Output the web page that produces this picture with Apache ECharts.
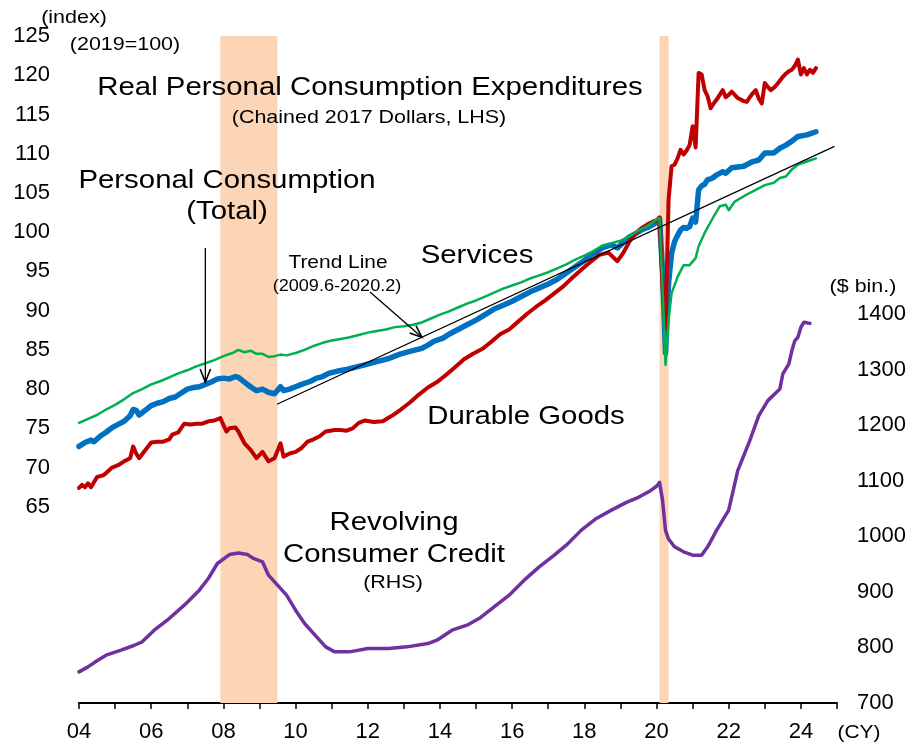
<!DOCTYPE html>
<html>
<head>
<meta charset="utf-8">
<title>Real Personal Consumption Expenditures and Revolving Consumer Credit</title>
<script src="https://cdn.jsdelivr.net/npm/echarts@6/dist/echarts.min.js"></script>
<style>
  html, body { margin: 0; padding: 0; background: #fff; }
  #chart { width: 909px; height: 746px; }
</style>
</head>
<body>
<div id="chart"></div>
<script>
// ---- Data: [year, month, value] ----
// Real PCE indices, 2019 = 100 (LHS)
const totalPCE = [
  [2004,1,72.7],[2004,3,73.2],[2004,5,73.5],[2004,6,73.3],[2004,8,74.0],[2004,10,74.5],[2004,12,75.1],
  [2005,2,75.5],[2005,4,75.9],[2005,6,76.6],[2005,7,77.4],[2005,8,77.3],[2005,9,76.7],[2005,11,77.3],
  [2006,1,77.9],[2006,3,78.2],[2006,5,78.4],[2006,7,78.8],[2006,9,79.0],[2006,11,79.5],
  [2007,1,80.0],[2007,3,80.2],[2007,5,80.3],[2007,7,80.6],[2007,9,80.9],[2007,11,81.3],
  [2008,1,81.4],[2008,3,81.3],[2008,5,81.6],[2008,6,81.5],[2008,8,80.9],[2008,10,80.3],[2008,12,79.8],
  [2009,2,80.0],[2009,4,79.6],[2009,6,79.4],[2009,8,80.3],[2009,9,79.8],[2009,11,80.0],
  [2010,1,80.3],[2010,3,80.6],[2010,6,81.0],[2010,8,81.4],[2010,10,81.6],[2010,12,82.0],
  [2011,3,82.3],[2011,6,82.5],[2011,9,82.8],[2011,12,83.1],
  [2012,3,83.4],[2012,6,83.7],[2012,8,83.9],[2012,10,84.2],[2012,12,84.5],
  [2013,3,84.8],[2013,5,85.0],[2013,7,85.2],[2013,9,85.6],[2013,11,86.1],
  [2014,2,86.5],[2014,4,87.0],[2014,7,87.6],[2014,10,88.2],
  [2015,1,88.8],[2015,4,89.5],[2015,7,90.2],[2015,10,90.7],
  [2016,1,91.2],[2016,4,91.8],[2016,7,92.4],[2016,10,92.9],
  [2017,1,93.4],[2017,4,94.0],[2017,7,94.8],[2017,10,95.6],
  [2018,1,96.4],[2018,4,97.3],[2018,7,98.0],[2018,10,98.4],[2018,12,98.0],
  [2019,2,98.7],[2019,4,99.4],[2019,6,99.8],[2019,8,100.3],[2019,10,100.6],[2019,12,101.0],
  [2020,1,101.3],[2020,2,101.7],[2020,3,95.0],[2020,4,84.6],[2020,5,93.5],[2020,6,97.3],
  [2020,7,98.8],[2020,8,99.6],[2020,9,100.3],[2020,10,100.6],[2020,11,100.5],[2020,12,100.7],
  [2021,1,101.8],[2021,2,101.3],[2021,3,105.4],[2021,4,105.9],[2021,5,106.1],[2021,6,106.7],
  [2021,7,106.8],[2021,8,107.0],[2021,9,107.3],[2021,10,107.5],[2021,11,107.7],[2021,12,107.5],
  [2022,2,108.2],[2022,4,108.3],[2022,6,108.4],[2022,9,109.0],[2022,11,109.2],
  [2023,1,110.1],[2023,4,110.1],[2023,6,110.7],[2023,8,111.1],[2023,10,111.6],[2023,12,112.2],
  [2024,3,112.4],[2024,6,112.8]
];

const services = [
  [2004,1,75.7],[2004,4,76.2],[2004,7,76.7],[2004,10,77.4],
  [2005,1,78.0],[2005,4,78.7],[2005,7,79.5],[2005,10,80.0],
  [2006,1,80.6],[2006,4,81.0],[2006,7,81.5],[2006,10,82.0],
  [2007,1,82.4],[2007,4,82.9],[2007,7,83.3],[2007,10,83.7],
  [2008,1,84.2],[2008,4,84.6],[2008,6,85.0],[2008,8,84.7],[2008,10,84.9],[2008,12,84.5],
  [2009,2,84.5],[2009,4,84.1],[2009,6,84.2],[2009,8,84.4],[2009,10,84.3],
  [2010,1,84.6],[2010,4,85.0],[2010,7,85.5],[2010,10,85.9],
  [2011,1,86.2],[2011,4,86.4],[2011,7,86.6],[2011,10,86.9],
  [2012,1,87.2],[2012,4,87.4],[2012,7,87.6],[2012,10,87.9],
  [2013,1,88.0],[2013,4,88.2],[2013,7,88.5],[2013,10,89.0],
  [2014,1,89.5],[2014,4,89.9],[2014,7,90.4],[2014,10,90.9],
  [2015,1,91.3],[2015,4,91.8],[2015,7,92.3],[2015,10,92.8],
  [2016,1,93.2],[2016,4,93.6],[2016,7,94.1],[2016,10,94.5],
  [2017,1,94.9],[2017,4,95.4],[2017,7,95.9],[2017,10,96.5],
  [2018,1,97.0],[2018,4,97.6],[2018,7,98.3],[2018,10,98.6],
  [2019,1,98.9],[2019,4,99.5],[2019,7,100.2],[2019,10,100.8],
  [2020,1,101.6],[2020,2,101.8],[2020,3,93.0],[2020,4,83.1],[2020,5,88.8],[2020,6,92.2],
  [2020,8,94.3],[2020,10,95.8],[2020,12,95.8],
  [2021,2,96.7],[2021,3,98.2],[2021,5,99.9],[2021,8,102.0],[2021,10,103.3],[2021,12,103.5],
  [2022,1,102.8],[2022,3,103.9],[2022,7,104.8],[2022,10,105.4],
  [2023,1,106.0],[2023,4,106.3],[2023,6,106.9],[2023,8,107.1],[2023,10,108.0],[2023,12,108.6],
  [2024,3,109.0],[2024,6,109.4]
];

const durableGoods = [
  [2004,1,67.4],[2004,2,67.8],[2004,3,67.5],[2004,4,68.0],[2004,5,67.5],[2004,7,68.8],[2004,9,69.0],[2004,10,69.3],[2004,12,70.0],
  [2005,2,70.3],[2005,4,70.8],[2005,6,71.2],[2005,7,72.7],[2005,8,71.8],[2005,9,71.2],[2005,11,72.2],
  [2006,1,73.2],[2006,3,73.3],[2006,5,73.3],[2006,7,73.6],[2006,8,74.2],[2006,10,74.5],[2006,12,75.6],
  [2007,2,75.5],[2007,4,75.6],[2007,6,75.6],[2007,8,75.9],[2007,10,76.0],[2007,12,76.3],
  [2008,2,74.6],[2008,3,75.0],[2008,5,75.1],[2008,6,74.6],[2008,8,73.1],[2008,10,72.3],[2008,12,71.2],
  [2009,2,72.0],[2009,4,70.8],[2009,6,71.2],[2009,8,73.1],[2009,9,71.4],[2009,11,71.8],
  [2010,1,72.0],[2010,3,72.5],[2010,5,73.3],[2010,7,73.6],[2010,9,74.0],[2010,11,74.6],
  [2011,2,74.8],[2011,4,74.8],[2011,6,74.7],[2011,8,75.0],[2011,10,75.7],[2011,12,76.0],
  [2012,3,75.8],[2012,6,75.9],[2012,9,76.6],[2012,12,77.4],
  [2013,3,78.3],[2013,6,79.3],[2013,9,80.2],[2013,12,80.9],
  [2014,3,81.8],[2014,6,82.8],[2014,9,83.8],[2014,12,84.5],
  [2015,3,85.1],[2015,6,86.0],[2015,9,87.0],[2015,12,87.6],
  [2016,3,88.6],[2016,6,89.6],[2016,9,90.5],[2016,12,91.3],
  [2017,3,92.2],[2017,6,93.1],[2017,9,94.2],[2017,12,95.2],
  [2018,3,96.2],[2018,6,97.1],[2018,9,97.4],[2018,12,96.3],
  [2019,2,97.4],[2019,4,98.8],[2019,6,99.8],[2019,8,100.5],[2019,10,101.0],[2019,12,101.4],
  [2020,1,101.5],[2020,2,101.9],[2020,3,93.0],[2020,4,87.6],[2020,5,104.1],[2020,6,108.4],
  [2020,7,108.6],[2020,8,109.4],[2020,9,110.5],[2020,10,109.9],[2020,11,110.4],[2020,12,111.1],
  [2021,1,113.5],[2021,2,110.8],[2021,3,120.3],[2021,4,120.1],[2021,5,118.1],[2021,6,117.3],
  [2021,7,115.8],[2021,8,116.4],[2021,9,116.9],[2021,10,117.5],[2021,11,118.1],[2021,12,117.2],
  [2022,1,117.5],[2022,2,117.9],[2022,3,117.5],[2022,4,117.1],[2022,5,116.9],[2022,6,116.7],
  [2022,7,116.6],[2022,8,117.2],[2022,9,117.7],[2022,10,118.1],[2022,11,117.0],[2022,12,116.4],
  [2023,1,119.0],[2023,2,118.5],[2023,3,118.1],[2023,4,118.4],[2023,5,118.8],[2023,6,119.3],
  [2023,7,119.8],[2023,8,120.2],[2023,9,120.5],[2023,10,120.7],[2023,11,121.2],[2023,12,122.0],
  [2024,1,120.1],[2024,2,120.9],[2024,3,120.1],[2024,4,120.7],[2024,5,120.3],[2024,6,120.9]
];

// Trend of total PCE fitted over 2009.6-2020.2, extended to the end of the axis
const trendLine = [[2009,7,78.1],[2024,12,110.9]];

// Revolving consumer credit, $ billion (RHS)
const revolvingCredit = [
  [2004,1,756],[2004,4,765],[2004,7,776],[2004,10,786],[2005,3,795],[2005,7,803],[2005,10,810],
  [2006,2,831],[2006,7,852],[2006,12,876],[2007,5,903],[2007,8,924],[2007,11,951],
  [2008,3,967],[2008,6,970],[2008,9,967],[2008,11,960],[2009,2,954],[2009,4,930],[2009,7,912],[2009,10,894],
  [2010,1,867],[2010,4,843],[2010,8,819],[2010,11,801],[2011,2,792],[2011,7,792],
  [2012,1,798],[2012,8,798],[2013,2,801],[2013,9,807],[2013,12,813],
  [2014,5,831],[2014,10,840],[2015,2,852],[2015,7,873],[2015,12,894],
  [2016,5,921],[2016,10,945],[2017,3,966],[2017,7,984],[2017,12,1011],
  [2018,5,1032],[2018,10,1047],[2019,3,1061],[2019,7,1070],[2019,11,1082],
  [2020,1,1090],[2020,2,1097],[2020,3,1065],[2020,4,1010],[2020,5,995],[2020,7,981],[2020,10,972],
  [2021,1,966],[2021,4,966],[2021,6,981],[2021,9,1011],
  [2022,1,1047],[2022,4,1118],[2022,8,1172],[2022,11,1217],
  [2023,2,1244],[2023,6,1265],[2023,7,1292],[2023,9,1310],[2023,10,1334],[2023,11,1352],[2023,12,1358],
  [2024,1,1376],[2024,2,1385],[2024,4,1383]
];

// Recession periods: [startYear, startMonth, endYear, endMonth]
const recessions = [[2007,12,2009,6],[2020,2,2020,4]];

// ---- Helpers ----
const FONT = '"Liberation Sans", Arial, Helvetica, sans-serif';
const toYear = (y, m) => y + (m - 1) / 12;
const toPoints = arr => arr.map(d => [toYear(d[0], d[1]), d[2]]);

const chart = echarts.init(document.getElementById('chart'), null, { renderer: 'canvas' });

const lineSeries = (name, data, color, width, z, yAxisIndex) => ({
  name, type: 'line', data: toPoints(data), yAxisIndex: yAxisIndex || 0,
  showSymbol: false, symbol: 'none', smooth: false, z, silent: true,
  lineStyle: { color, width, join: 'round', cap: 'round' }
});

chart.setOption({
  animation: false,
  backgroundColor: '#ffffff',
  grid: { left: 79, right: 72, top: 36, bottom: 43, containLabel: false },
  xAxis: {
    type: 'value', min: 2004, max: 2025, interval: 1,
    axisLine: { show: true, onZero: false, lineStyle: { color: '#000', width: 2 } },
    axisTick: { show: true, length: 6, lineStyle: { color: '#000', width: 1.5 } },
    axisLabel: {
      fontSize: 22, color: '#000', fontFamily: FONT, margin: 18,
      formatter: v => (v % 2 === 0 && v < 2025) ? String(v).slice(2) : ''
    },
    splitLine: { show: false }
  },
  yAxis: [
    {
      type: 'value', min: 40, max: 125, interval: 5, position: 'left',
      axisLine: { show: false }, axisTick: { show: false }, splitLine: { show: false },
      axisLabel: { fontSize: 22, color: '#000', fontFamily: FONT, margin: 29,
        formatter: v => v >= 65 ? String(v) : '' }
    },
    {
      type: 'value', min: 700, max: 1900, interval: 100, position: 'right',
      axisLine: { show: false }, axisTick: { show: false }, splitLine: { show: false },
      axisLabel: { fontSize: 22, color: '#000', fontFamily: FONT, margin: 20,
        formatter: v => v <= 1400 ? String(v) : '' }
    }
  ],
  series: [
    {
      name: 'Recession', type: 'line', data: [], z: 1, silent: true,
      markArea: {
        silent: true,
        itemStyle: { color: '#FBD5B5' },
        data: recessions.map(r => [{ xAxis: toYear(r[0], r[1]) }, { xAxis: toYear(r[2], r[3]) + 1 / 12 }])
      }
    },
    lineSeries('Revolving Consumer Credit', revolvingCredit, '#7030A0', 3.5, 2, 1),
    lineSeries('Personal Consumption (Total)', totalPCE, '#0070C0', 5.5, 3),
    lineSeries('Durable Goods', durableGoods, '#C00000', 4, 4),
    lineSeries('Services', services, '#00B050', 2.5, 5),
    lineSeries('Trend Line', trendLine, '#000000', 1.3, 6)
  ]
});

// ---- Annotations ----
const STRETCH = 1.13;
function label(text, x, y, size) {
  return {
    type: 'text', x, y, scaleX: STRETCH, silent: true, z: 20,
    style: {
      text, x: 0, y: 0, font: size + 'px ' + FONT, fill: '#000',
      align: 'center', verticalAlign: 'middle', textAlign: 'center', textVerticalAlign: 'middle'
    }
  };
}
function arrow(from, to, head) {
  const dx = to[0] - from[0], dy = to[1] - from[1];
  const len = Math.sqrt(dx * dx + dy * dy);
  const ux = dx / len, uy = dy / len;
  const a = 0.38, h = head || 13;
  const w1 = [to[0] - h * (ux * Math.cos(a) - uy * Math.sin(a)), to[1] - h * (uy * Math.cos(a) + ux * Math.sin(a))];
  const w2 = [to[0] - h * (ux * Math.cos(a) + uy * Math.sin(a)), to[1] - h * (uy * Math.cos(a) - ux * Math.sin(a))];
  return [
    { type: 'line', silent: true, z: 20, shape: { x1: from[0], y1: from[1], x2: to[0], y2: to[1] },
      style: { stroke: '#000', lineWidth: 1.3 } },
    { type: 'polyline', silent: true, z: 20, shape: { points: [w1, to, w2] },
      style: { stroke: '#000', lineWidth: 1.6, fill: null } }
  ];
}

const px = (t, v) => chart.convertToPixel({ xAxisIndex: 0, yAxisIndex: 0 }, [t, v]);
const trendAt = t => {
  const p = toPoints(trendLine);
  return p[0][1] + (t - p[0][0]) * (p[1][1] - p[0][1]) / (p[1][0] - p[0][0]);
};

const totalArrowTo = px(2007.5, 80.9);
const totalArrowFrom = [totalArrowTo[0], 248];
const trendArrowTo = px(2013.5, trendAt(2013.5));
const trendArrowFrom = [370, 292];

chart.setOption({
  graphic: [
    label('(index)', 74, 18, 19),
    label('(2019=100)', 125, 45, 19),
    label('Real Personal Consumption Expenditures', 370, 88, 26),
    label('(Chained 2017 Dollars, LHS)', 369, 118, 19),
    label('Personal Consumption', 227, 181, 26),
    label('(Total)', 227, 212, 26),
    label('Trend Line', 338, 263, 18.5),
    label('(2009.6-2020.2)', 337, 287, 16),
    label('Services', 477, 256, 26),
    label('Durable Goods', 526, 417, 26),
    label('Revolving', 394, 523, 26),
    label('Consumer Credit', 394, 555, 26),
    label('(RHS)', 393, 583, 19),
    label('($ bin.)', 863, 287, 19),
    label('(CY)', 859, 733, 18.5),
    ...arrow(totalArrowFrom, totalArrowTo, 14),
    ...arrow(trendArrowFrom, trendArrowTo, 13)
  ]
});
</script>
</body>
</html>
